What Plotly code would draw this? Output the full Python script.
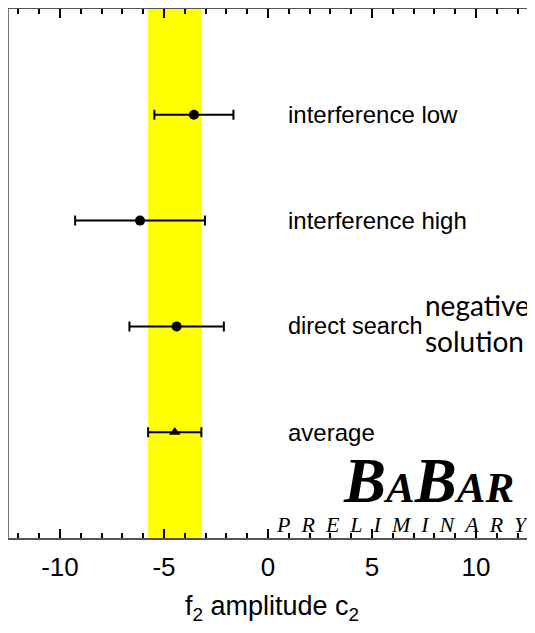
import plotly.graph_objects as go

# ---- data ----
labels = ["interference low", "interference high", "direct search", "average"]
values = [-3.56, -6.15, -4.39, -4.48]
errors = [1.90, 3.12, 2.27, 1.28]
ypos = [4, 3, 2, 1]
symbols = ["circle", "circle", "circle", "triangle-up"]
msizes = [10, 10, 10, 10]
label_sizes = [24, 24, 23.5, 24]
x_ticks = [-10, -5, 0, 5, 10]

avg_val = values[3]
avg_err = errors[3]

fig = go.Figure()

# yellow average band
fig.add_shape(type="rect", xref="x", yref="paper",
              x0=avg_val - avg_err, x1=avg_val + avg_err, y0=0, y1=1,
              fillcolor="#ffff00", line=dict(width=0), layer="below")

for lab, v, e, y, s, ms in zip(labels, values, errors, ypos, symbols, msizes):
    fig.add_trace(go.Scatter(
        x=[v], y=[y], mode="markers",
        marker=dict(symbol=s, size=ms, color="black"),
        error_x=dict(type="data", array=[e], color="black", thickness=2, width=5),
        showlegend=False, name=lab))

for lab, y, fs in zip(labels, ypos, label_sizes):
    fig.add_annotation(x=0.87, y=y, xref="x", yref="y", text=lab,
                       showarrow=False, xanchor="left", yanchor="middle",
                       font=dict(family="Liberation Sans, Arial", size=fs, color="black"))

fig.add_annotation(x=7.45, y=2.03, xref="x", yref="y",
                   text="negative<br>solution", align="left",
                   showarrow=False, xanchor="left", yanchor="middle",
                   font=dict(family="Lato, Open Sans", size=28, color="black"))

fig.add_annotation(x=0.797, y=0.108, xref="paper", yref="paper",
                   text="<b><i>B<span style='font-size:43px'>A</span>B<span style='font-size:43px'>AR</span></i></b>",
                   showarrow=False, xanchor="center", yanchor="middle",
                   font=dict(family="Liberation Serif, Times New Roman", size=63, color="black"))

fig.add_annotation(x=0.748, y=0.026, xref="paper", yref="paper",
                   text="<i>P\u00a0\u00a0R\u00a0\u00a0E\u00a0\u00a0L\u00a0\u00a0I\u00a0\u00a0M\u00a0\u00a0I\u00a0\u00a0N\u00a0\u00a0A\u00a0\u00a0R\u00a0\u00a0Y</i>",
                   showarrow=False, xanchor="center", yanchor="middle",
                   font=dict(family="Liberation Serif, Times New Roman", size=22, color="black"))

fig.update_layout(
    width=527, height=617,
    margin=dict(l=1, r=0, t=1, b=87),
    paper_bgcolor="white", plot_bgcolor="white",
    xaxis=dict(range=[-12.45, 12.84], tickvals=x_ticks,
               ticktext=[str(t) for t in x_ticks],
               ticks="inside", ticklen=9, tickwidth=2, tickcolor="black",
               minor=dict(dtick=1, ticks="inside", ticklen=5, tickwidth=1.5, tickcolor="black"),
               showline=True, linecolor="#555", linewidth=2, mirror="allticks",
               showgrid=False, zeroline=False, automargin=False,
               ticklabelstandoff=5,
               tickfont=dict(family="Liberation Sans, Arial", size=26, color="black"),
               title=dict(text="f<sub>2</sub> amplitude c<sub>2</sub>",
                          font=dict(family="Liberation Sans, Arial", size=27, color="black"),
                          standoff=15)),
    yaxis=dict(range=[0, 5], showticklabels=False, ticks="",
               showline=True, linecolor="#777", linewidth=2, mirror=False,
               showgrid=False, zeroline=False, automargin=False),
)

fig.write_html("out.html")
